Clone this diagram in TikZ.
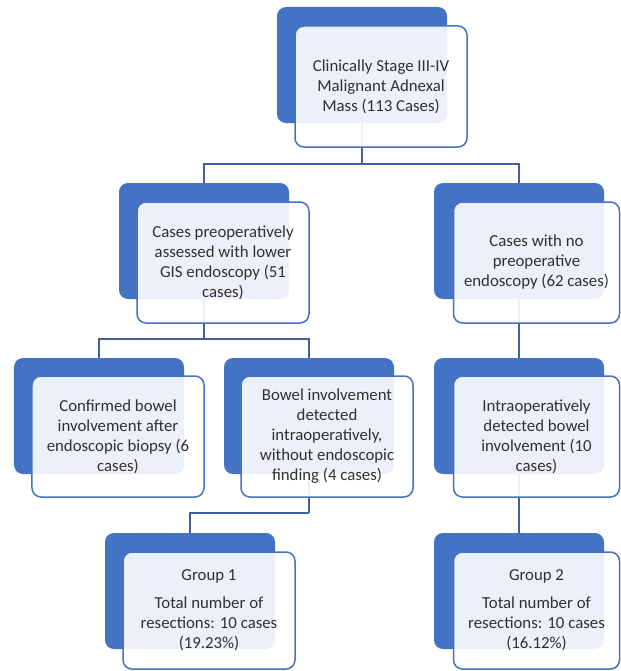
\documentclass[tikz,border=0pt]{standalone}
\usepackage{fontspec}
\setmainfont{Carlito}
\definecolor{acc}{HTML}{4472C4}
\definecolor{connc}{HTML}{41609F}
\definecolor{txt}{HTML}{303030}
\begin{document}
\begin{tikzpicture}[x=1bp,y=-1bp,
  backbox/.style={fill=acc, draw=none, rounded corners=9bp, inner sep=0, minimum width=170bp, minimum height=116bp},
  frontbox/.style={fill=white, fill opacity=0.9, text opacity=1, draw=acc, line width=1.5bp, rounded corners=9bp, inner sep=0, align=center, font=\fontsize{16.8bp}{20bp}\selectfont, text=txt, minimum height=121bp},
  conn/.style={draw=connc, line width=2bp}]
\useasboundingbox (0,0) rectangle (621,671);
% back boxes
\node[backbox] (b1) at (362,65) {};
\node[backbox] (b2a) at (204,241) {};
\node[backbox] (b2b) at (519,241) {};
\node[backbox] (b3a) at (99,416) {};
\node[backbox] (b3b) at (309,416) {};
\node[backbox] (b3c) at (519,416) {};
\node[backbox] (g1b) at (190,591) {};
\node[backbox] (g2b) at (519,591) {};
% connectors
\coordinate (j1) at (362,164);
\coordinate (j2) at (204,339);
\coordinate (j3) at (309,513);
\draw[conn] (b1.south) -- (j1);
\draw[conn] (j1) -| (b2a.north);
\draw[conn] (j1) -| (b2b.north);
\draw[conn] (b2a.south) -- (j2);
\draw[conn] (j2) -| (b3a.north);
\draw[conn] (j2) -| (b3b.north);
\draw[conn] (b2b.south) -- (b3c.north);
\draw[conn] (b3b.south) -- (j3);
\draw[conn] (j3) -| (g1b.north);
\draw[conn] (b3c.south) -- (g2b.north);
% front boxes
\node[frontbox, minimum width=172bp] (f1) at (381,86.5) {Clinically Stage III-IV\\Malignant Adnexal\\Mass (113 Cases)};
\node[frontbox, minimum width=172bp] (f2a) at (223,262.5) {Cases preoperatively\\assessed with lower\\GIS endoscopy (51\\cases)};
\node[frontbox, minimum width=166bp] (f2b) at (536.5,262.5) {Cases with no\\preoperative\\endoscopy (62 cases)};
\node[frontbox, minimum width=172bp] (f3a) at (118,436.5) {Confirmed bowel\\involvement after\\endoscopic biopsy (6\\cases)};
\node[frontbox, minimum width=172bp] (f3b) at (327,436.5) {Bowel involvement\\detected\\intraoperatively,\\without endoscopic\\finding (4 cases)};
\node[frontbox, minimum width=166bp] (f3c) at (536.5,436.5) {Intraoperatively\\detected bowel\\involvement (10\\cases)};
\node[frontbox, minimum width=172bp, minimum height=117bp] (g1f) at (209,610.5) {Group 1\\[8bp]Total number of\\resections: 10 cases\\(19.23\%)};
\node[frontbox, minimum width=166bp, minimum height=117bp] (g2f) at (536.5,610.5) {Group 2\\[8bp]Total number of\\resections: 10 cases\\(16.12\%)};
\end{tikzpicture}
\end{document}
